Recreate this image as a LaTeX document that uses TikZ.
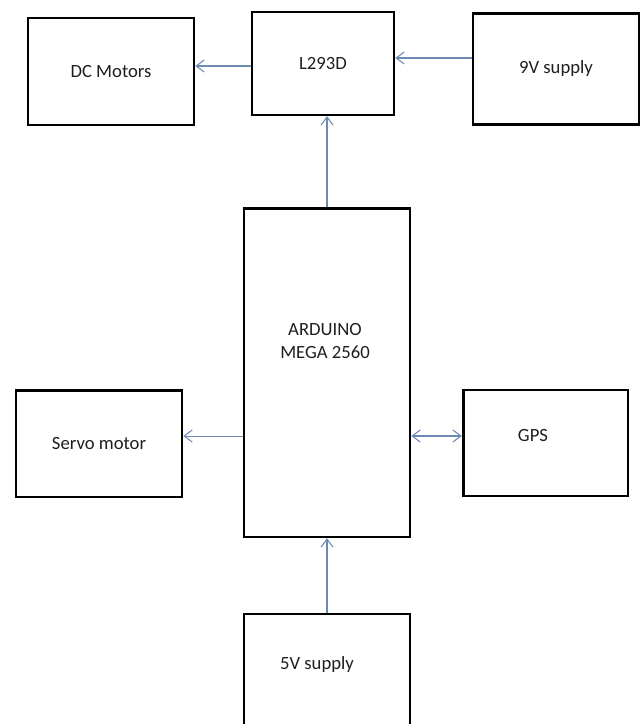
\documentclass[tikz,border=0pt]{standalone}
\usepackage{fontspec}
\setmainfont{Carlito}
\usetikzlibrary{positioning,arrows.meta}
\definecolor{linkblue}{RGB}{108,138,178}
\definecolor{txtgray}{RGB}{30,30,30}

\begin{document}
\begin{tikzpicture}[x=0.75pt, y=-0.75pt,
    tag/.style={text=txtgray, font=\fontsize{14}{17.25}\selectfont, align=center},
    blk/.style={draw, rectangle, line width=2pt, tag},
    link/.style={-{Straight Barb[length=6pt,width=9pt]}, linkblue, line width=0.8pt},
    both/.style={{Straight Barb[length=6pt,width=9pt]}-{Straight Barb[length=6pt,width=9pt]}, linkblue, line width=0.8pt}]
  \useasboundingbox (0,0) rectangle (641,724);

  % Blocks
  \node[blk, minimum width=124.5pt, minimum height=246.5pt,
        label={[tag, xshift=-1.5pt, yshift=23.25pt]center:ARDUINO\\MEGA 2560}] (ard) at (327,372.5) {};
  \node[blk, minimum width=106.5pt, minimum height=77pt] (l293) at (323,63.5) {L293D};
  \node[blk, minimum width=124.5pt, minimum height=80pt] (dc) at (111,71.5) {DC Motors};
  \node[blk, minimum width=124.5pt, minimum height=83.5pt] (v9) at (556,69) {9V supply};
  \node[blk, minimum width=124.5pt, minimum height=80pt] (servo) at (99,443.5) {Servo motor};
  \node[blk, minimum width=123.5pt, minimum height=79.5pt,
        label={[tag, xshift=-9.4pt, yshift=5.25pt]center:GPS}] (gps) at (545.5,443) {};
  \node[blk, minimum width=124.5pt, minimum height=96pt,
        label={[tag, xshift=-7.5pt, yshift=9.75pt]center:5V supply}] (sup5) at (327,678) {};

  % Connections
  \draw[link] ([yshift=-1.9pt]l293.west) -- ([yshift=-1.9pt]l293.west -| dc.east);
  \draw[link] ([yshift=8.25pt]v9.west) -- ([yshift=8.25pt]v9.west -| l293.east);
  \draw[link] (ard.north) -- (ard.north |- l293.south);
  \draw[link] ([yshift=5.6pt]servo.east -| ard.west) -- ([yshift=5.6pt]servo.east);
  \draw[both] ([yshift=5.25pt]gps.west -| ard.east) -- ([yshift=5.25pt]gps.west);
  \draw[link] (sup5.north) -- (ard.south);
\end{tikzpicture}
\end{document}
